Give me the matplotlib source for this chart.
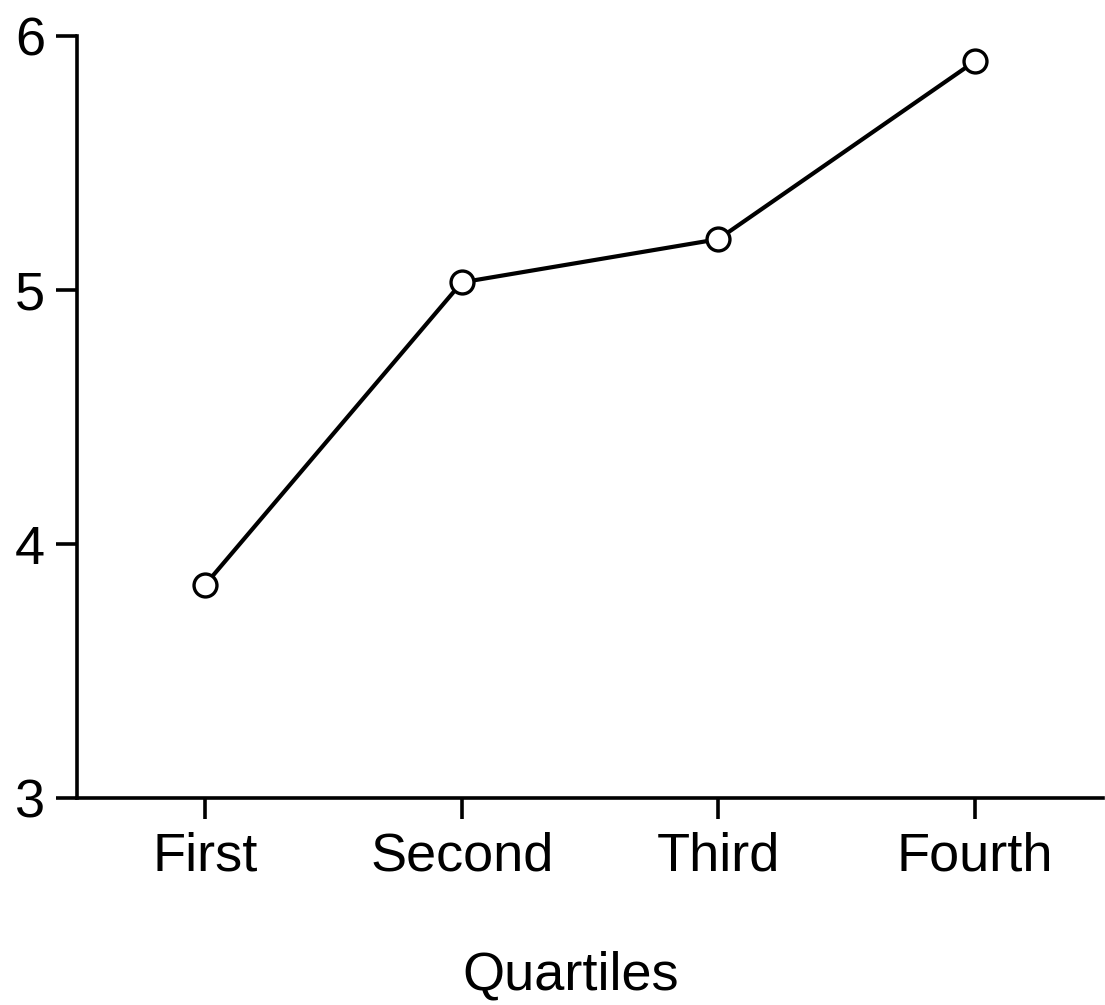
import matplotlib
matplotlib.use("Agg")
import matplotlib.pyplot as plt

plt.rcParams['font.family'] = ['Liberation Sans', 'DejaVu Sans']

quartiles = ['First', 'Second', 'Third', 'Fourth']
values = [3.84, 5.03, 5.20, 5.90]
yticks = [3, 4, 5, 6]

fig = plt.figure(figsize=(11.05, 10.05), dpi=100)
ax = fig.add_axes([77 / 1105, 207 / 1005, 1026 / 1105, 762 / 1005])

x = list(range(1, len(quartiles) + 1))
ax.plot(x, values, color='black', linewidth=3.0, marker='o', markersize=16.5,
        markerfacecolor='white', markeredgecolor='black', markeredgewidth=2.4,
        clip_on=False, zorder=3)

ax.set_xlim(0.5, 4.5)
ax.set_ylim(3, 6)
ax.set_xticks(x)
ax.set_xticklabels(quartiles)
ax.set_yticks(yticks)

for side in ['top', 'right']:
    ax.spines[side].set_visible(False)
for side in ['left', 'bottom']:
    ax.spines[side].set_linewidth(2.6)

ax.tick_params(axis='both', direction='out', length=15, width=2.6,
               labelsize=39, colors='black')
ax.tick_params(axis='y', pad=8)
ax.tick_params(axis='x', pad=9)

# label sits a little left of the axis centre in the original
ax.set_xlabel('Quartiles', fontsize=39)
ax.xaxis.set_label_coords(0.481, -0.200)
ax.xaxis.label.set_va('top')

fig.savefig('out.png', dpi=100)
